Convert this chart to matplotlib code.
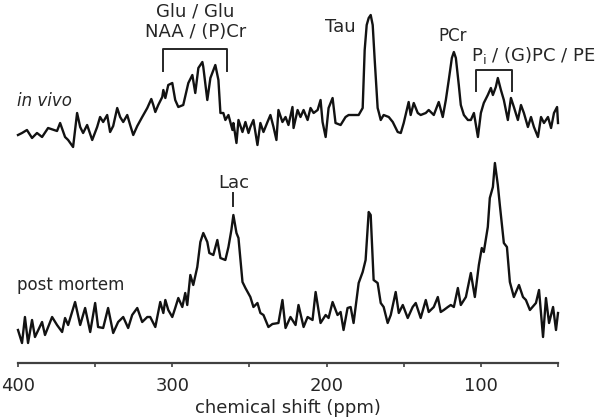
import matplotlib
matplotlib.use('Agg')
import matplotlib.pyplot as plt

# spectra: chemical shift (ppm) and intensity (a.u., baseline ~0)
invivo_ppm = [
    400.0, 397.4, 394.2, 390.9, 387.7, 384.4, 380.5, 374.7, 372.7, 369.5,
    367.5, 364.3, 361.7, 359.7, 357.8, 355.2, 351.9, 348.7, 346.8, 344.8,
    342.2, 340.3, 338.3, 335.7, 333.8, 331.8, 329.2, 327.3, 325.3, 322.7,
    319.5, 316.2, 313.6, 312.3, 311.0, 309.1, 306.5, 305.8, 304.5, 302.6,
    300.0, 298.1, 296.1, 292.9, 289.6, 287.0, 285.1, 283.1, 280.5, 279.9,
    277.3, 275.3, 272.1, 270.1, 268.8, 266.9, 265.6, 263.6, 261.0, 260.4,
    258.4, 257.1, 254.5, 252.6, 250.6, 249.4, 247.4, 244.8, 242.9, 240.9,
    238.3, 236.4, 234.4, 232.5, 231.2, 228.6, 226.6, 224.7, 222.1, 221.4,
    218.8, 216.9, 214.9, 212.3, 210.4, 208.4, 205.8, 203.9, 202.6, 200.6,
    198.7, 196.1, 194.2, 190.9, 187.7, 185.7, 182.5, 179.2, 176.6, 175.3,
    174.0, 172.7, 171.4, 170.1, 168.8, 166.9, 166.2, 164.9, 163.0, 159.7,
    157.1, 153.9, 151.9, 150.0, 146.8, 145.5, 143.5, 140.9, 139.0, 135.7,
    133.8, 130.5, 127.3, 124.7, 122.7, 120.8, 118.8, 117.5, 116.2, 114.3,
    113.0, 111.0, 108.4, 106.5, 104.5, 101.9, 100.0, 98.1, 95.5, 93.5,
    92.2, 90.3, 89.0, 87.0, 85.1, 82.5, 80.5, 78.6, 76.0, 74.0,
    72.1, 69.5, 67.5, 65.6, 63.0, 61.0, 59.1, 56.5, 54.5, 52.6,
    50.6, 50.0,
]
invivo_int = [
    -15, -13, -10, -18, -13, -17, -8, -11, -3, -17,
    -20, -27, 7, -7, -13, -5, -20, -7, 3, -2,
    5, -12, -6, 12, 3, -2, 5, -5, -15, -6,
    3, 12, 21, 15, 8, 15, 23, 30, 22, 35,
    37, 20, 13, 15, 37, 45, 27, 52, 58, 53,
    20, 42, 55, 40, 7, 7, 0, 5, -10, -3,
    -23, 0, -12, -2, -13, -7, 0, -25, -3, -12,
    -2, 5, -7, -20, 10, -2, 3, -5, 13, -8,
    10, 3, 10, 0, 12, 7, 10, 20, -2, -17,
    12, 22, -3, -5, 3, 5, 5, 5, 12, 70,
    95, 102, 105, 95, 60, 12, 8, 0, 5, 3,
    -2, -12, -13, -3, 18, 5, 17, 7, 5, 7,
    10, 5, 18, 3, 20, 40, 62, 68, 62, 35,
    15, 5, 0, 0, 7, -17, 7, 17, 25, 32,
    25, 33, 42, 30, 20, 0, 22, 13, 0, 15,
    7, -7, 3, -7, -17, 3, -3, 3, -8, 7,
    13, -3,
]

postmortem_ppm = [
    400.0, 397.4, 395.5, 393.5, 390.9, 389.0, 384.4, 382.5, 377.9, 374.7,
    371.4, 369.5, 367.5, 363.0, 359.7, 356.5, 353.2, 350.0, 348.1, 344.8,
    341.6, 338.3, 335.1, 331.8, 328.6, 326.0, 322.7, 319.5, 316.2, 314.3,
    311.0, 307.8, 305.8, 304.5, 302.6, 300.0, 298.1, 296.1, 293.5, 291.6,
    290.3, 288.3, 286.4, 283.8, 281.8, 279.9, 277.3, 276.0, 273.4, 270.8,
    268.8, 265.6, 263.6, 261.7, 260.4, 258.4, 257.1, 254.5, 252.6, 249.4,
    247.4, 244.8, 242.9, 240.9, 237.7, 235.1, 231.2, 228.6, 226.6, 223.4,
    220.1, 218.2, 214.9, 212.3, 209.1, 207.1, 203.9, 200.6, 198.7, 196.1,
    192.9, 190.9, 189.0, 186.4, 184.4, 182.5, 179.2, 176.6, 174.7, 172.7,
    171.4, 169.5, 166.9, 164.9, 163.0, 160.4, 158.4, 155.2, 153.2, 150.6,
    147.4, 144.2, 142.2, 139.0, 135.7, 133.8, 130.5, 127.9, 126.0, 124.0,
    121.4, 119.5, 117.5, 114.9, 113.0, 109.7, 106.5, 103.9, 101.3, 99.4,
    98.1, 95.5, 94.2, 92.2, 90.9, 89.0, 87.7, 85.1, 83.1, 81.2,
    78.6, 75.3, 72.7, 70.8, 68.2, 64.3, 62.3, 59.7, 57.8, 55.8,
    53.2, 51.3, 50.0,
]
postmortem_int = [
    -12, -25, 1, -25, -2, -19, -4, -17, 1, -7,
    -14, 0, -7, 16, -7, 10, -14, 15, -9, -10,
    10, -15, -4, 1, -10, 3, 10, -4, 1, 1,
    -9, 16, 5, 18, 8, 1, 10, 20, 11, 25,
    13, 43, 33, 51, 76, 85, 76, 65, 63, 78,
    60, 58, 71, 88, 103, 85, 80, 36, 30, 21,
    11, 15, 5, 3, -9, -6, -5, 18, -10, 1,
    -7, 13, -9, 1, -2, 26, -5, 3, 0, 16,
    3, 6, -12, 10, 11, -5, 35, 46, 58, 106,
    103, 38, 35, 15, 11, -5, 3, 26, 5, 13,
    0, 11, 15, 0, 18, 6, 11, 21, 6, 8,
    11, 13, 11, 30, 13, 21, 45, 21, 53, 70,
    66, 91, 120, 131, 155, 133, 113, 75, 71, 36,
    21, 33, 21, 18, 8, 15, 28, -19, 20, -5,
    11, -12, 5,
]

tick_values = [400, 300, 200, 100]
minor_values = [350, 250, 150, 50]

INVIVO_OFFSET = 243
POSTMORTEM_OFFSET = 45

TRACE = '#121212'
TEXT = '#262626'


def main():
    plt.rcParams['font.family'] = ['DejaVu Sans']
    fig = plt.figure(figsize=(6.0, 4.18), dpi=100)
    ax = fig.add_axes([0.03, 55 / 418, 0.90, 363 / 418])

    ax.plot(invivo_ppm, [v + INVIVO_OFFSET for v in invivo_int],
            color=TRACE, lw=1.7, solid_joinstyle='round', clip_on=False)
    ax.plot(postmortem_ppm, [v + POSTMORTEM_OFFSET for v in postmortem_int],
            color=TRACE, lw=1.7, solid_joinstyle='round', clip_on=False)

    ax.set_xlim(400, 50)
    ax.set_ylim(0, 363)

    for s in ('top', 'right', 'left'):
        ax.spines[s].set_visible(False)
    ax.spines['bottom'].set_color('#404040')
    ax.spines['bottom'].set_linewidth(1.6)
    ax.set_yticks([])
    ax.set_xticks(tick_values)
    ax.set_xticks(minor_values, minor=True)
    ax.tick_params(axis='x', which='both', length=3, width=1.2, color='#404040',
                   labelsize=13, labelcolor=TEXT, pad=7)
    ax.set_xlabel('chemical shift (ppm)', fontsize=13, color=TEXT, labelpad=3)

    # annotations
    kw = dict(fontsize=13, color=TEXT, ha='center', va='center', clip_on=False)
    ax.text(285, 351, 'Glu / Glu', **kw)
    ax.text(285, 331, 'NAA / (P)Cr', **kw)
    ax.plot([305.8, 305.8, 264.3, 264.3], [292, 314, 314, 292],
            color=TEXT, lw=1.4, clip_on=False)

    ax.text(191, 336, 'Tau', **kw)
    ax.text(118, 327, 'PCr', fontsize=12, color=TEXT, ha='center', va='center')
    ax.text(106.5, 307, 'P$_\\mathregular{i}$ / (G)PC / PE', fontsize=13, color=TEXT,
            ha='left', va='center', clip_on=False)
    ax.plot([103.2, 103.2, 79.9, 79.9], [272, 293, 293, 272],
            color=TEXT, lw=1.4, clip_on=False)

    ax.text(260.4, 180, 'Lac', **kw)
    ax.plot([260.4, 260.4], [157, 170], color=TEXT, lw=1.4)

    ax.text(400.5, 262, 'in vivo', fontsize=12, style='italic', color=TEXT,
            ha='left', va='center')
    ax.text(400.5, 78, 'post mortem', fontsize=12, color=TEXT,
            ha='left', va='center')

    fig.savefig('out.png', dpi=100, facecolor='white')


if __name__ == '__main__':
    main()
